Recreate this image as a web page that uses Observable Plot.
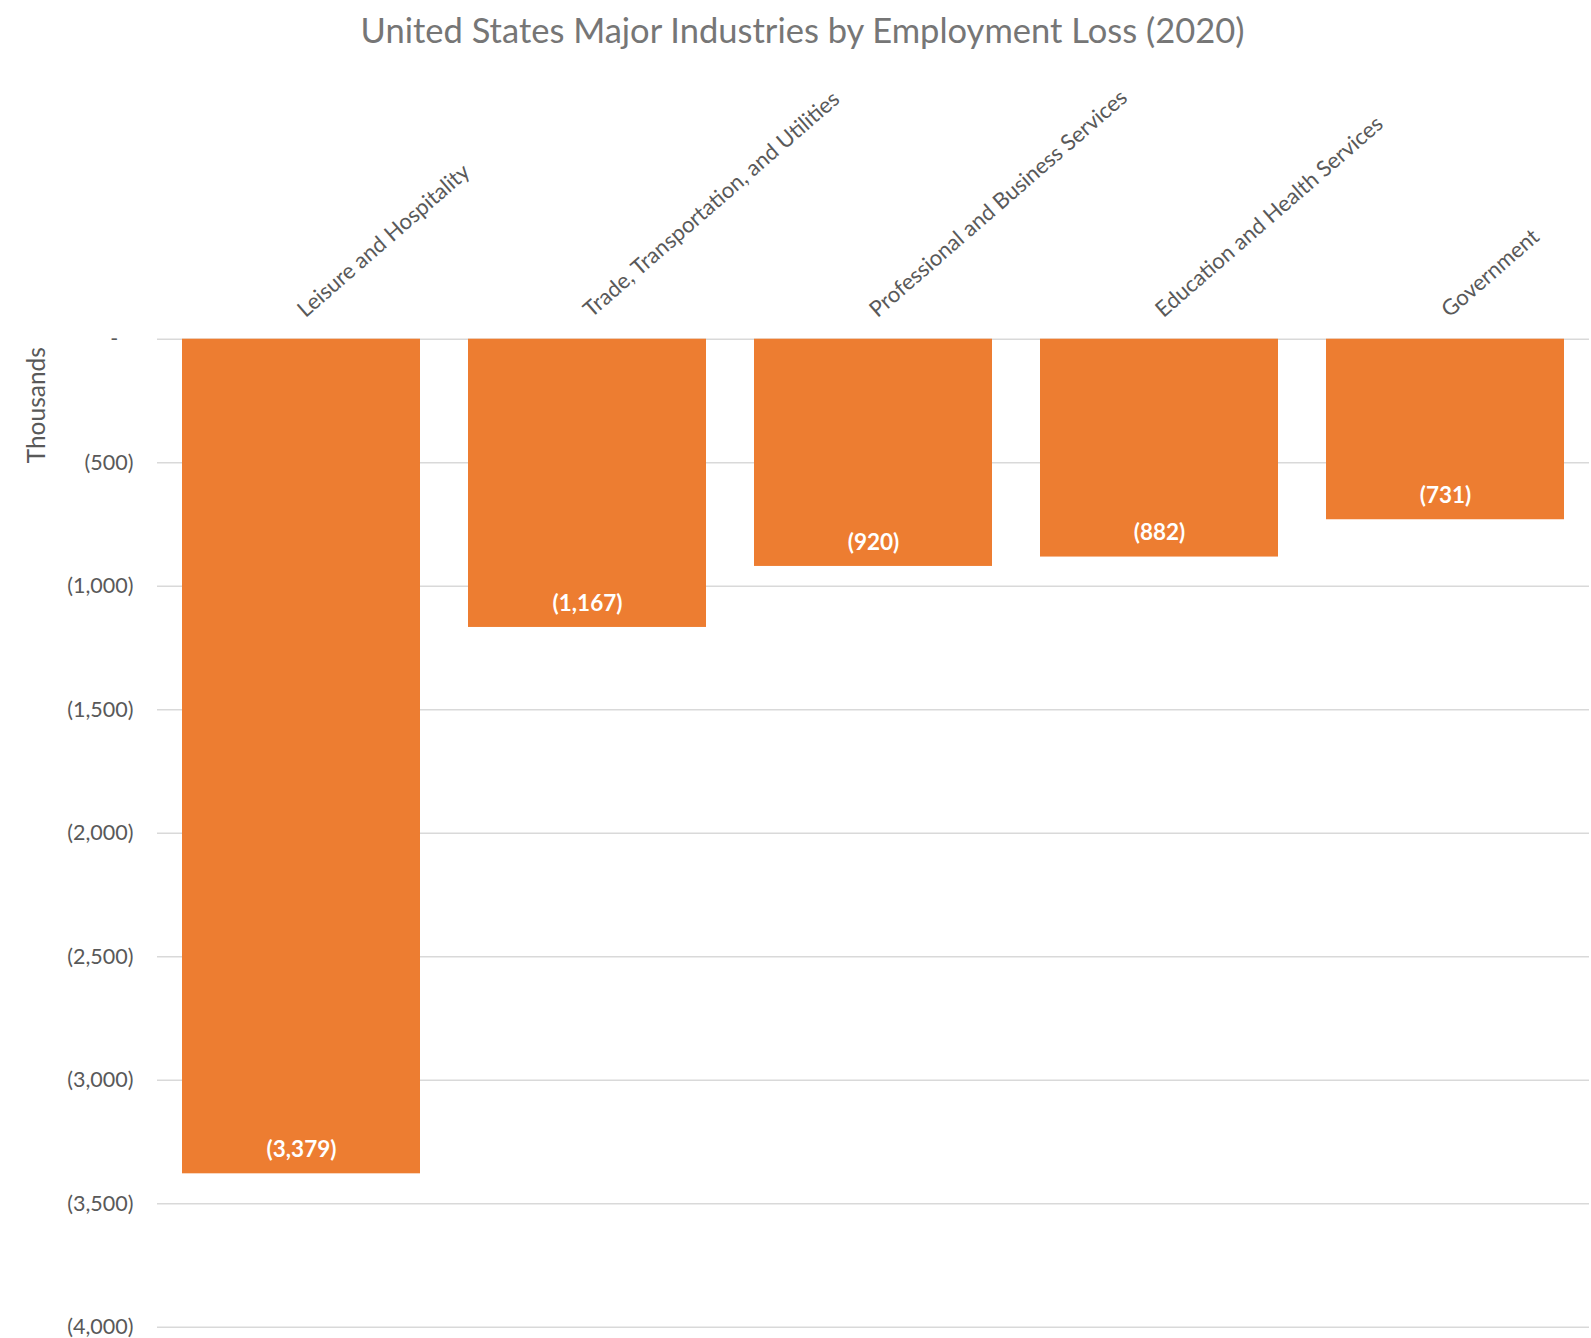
<!DOCTYPE html>
<html>
<head>
<meta charset="utf-8">
<script src="https://cdn.jsdelivr.net/npm/d3@7"></script>
<script src="https://cdn.jsdelivr.net/npm/@observablehq/plot@0.6"></script>
<style>
  html, body { margin: 0; padding: 0; background: #fff; }
  #title { width: 1591px; height: 60px; box-sizing: border-box; padding-left: 14px; padding-top: 3px; text-align: center;
           font-family: Lato, "Open Sans", sans-serif; font-size: 34.5px; line-height: 54px; color: #767676; white-space: nowrap; }
</style>
</head>
<body>
<div id="title">United States Major Industries by Employment Loss (2020)</div>
<div id="chart"></div>
<script>
const categories = [
  "Leisure and Hospitality",
  "Trade, Transportation, and Utilities",
  "Professional and Business Services",
  "Education and Health Services",
  "Government"
];
const values = [-3379, -1167, -920, -882, -731];
const yTicks = [0, -500, -1000, -1500, -2000, -2500, -3000, -3500, -4000];
const yLabel = "Thousands";

const data = categories.map((c, i) => ({category: c, value: values[i]}));
const fmt = d => d === 0 ? "-\u2007\u2009" : (d < 0 ? "(" + d3.format(",")(-d) + ")" : d3.format(",")(d));

const chart = Plot.plot({
  width: 1591,
  height: 1278,
  marginTop: 278.7,
  marginBottom: 11.3,
  marginLeft: 157,
  marginRight: 2,
  style: {fontFamily: "Lato, 'Open Sans', sans-serif", background: "#fff"},
  x: {domain: categories, paddingInner: 0.167, paddingOuter: 0.0835, axis: null},
  y: {domain: [-4000, 0], axis: null},
  marks: [
    Plot.ruleY(yTicks, {stroke: "#d9d9d9", strokeWidth: 1.5}),
    Plot.barY(data, {x: "category", y: "value", fill: "#ED7D31"}),
    Plot.text(data, {x: "category", y: "value", text: d => fmt(d.value), dy: -24,
      fill: "#ffffff", fontWeight: "bold", fontSize: 22.5, lineAnchor: "middle"}),
    Plot.text(data, {x: "category", y: () => 0, text: "category", rotate: -41, textAnchor: "start",
      lineAnchor: "bottom", dy: -21, dx: 4, fontSize: 22, fill: "#595959"}),
    Plot.axisY({ticks: yTicks, tickFormat: fmt, tickSize: 0, tickPadding: 24, fontSize: 21.5,
      color: "#595959", label: null}),
    Plot.text([yLabel], {frameAnchor: "top-left", dx: -120, dy: 66, rotate: -90,
      textAnchor: "middle", lineAnchor: "middle", fontSize: 24.5, fill: "#595959"})
  ]
});
document.getElementById("chart").appendChild(chart);
</script>
</body>
</html>
